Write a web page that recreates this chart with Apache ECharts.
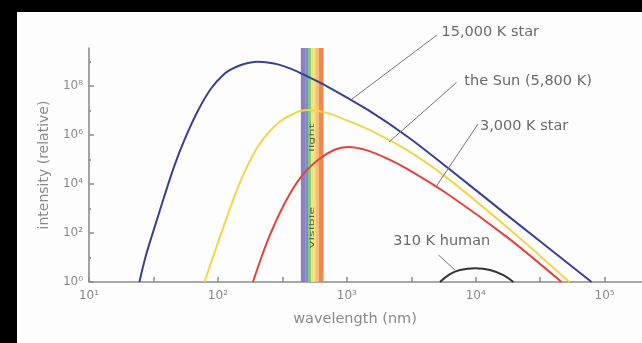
<!DOCTYPE html>
<html><head><meta charset="utf-8">
<script src="https://cdn.jsdelivr.net/npm/echarts@6/dist/echarts.min.js"></script>
<style>html,body{margin:0;padding:0;background:#000}#c{width:642px;height:343px}</style>
</head><body><div id="c"></div>
<script>
// wavelength in nm, intensity relative
const wavelengthsStar15000 = [24.6, 27.7, 32.2, 38.5, 46, 55, 69.8, 88.5, 112, 130, 151, 175, 204, 250, 292, 370, 470, 713, 1458, 2980, 6095, 17800, 79200];
const intensityStar15000   = [1, 12.6, 166, 3300, 5.6e4, 6.3e5, 9.5e6, 7.9e7, 3.1e8, 5.1e8, 7.2e8, 8.9e8, 9.8e8, 8.9e8, 7.6e8, 5.0e8, 2.8e8, 9.3e7, 1.05e7, 8.3e5, 4.5e4, 500, 1];
const wavelengthsSun = [78.7, 119, 151, 204, 292, 417, 499, 713, 1021, 1458, 2980, 6095, 17800, 53300];
const intensitySun   = [1, 540, 1.45e4, 3.3e5, 3.0e6, 8.9e6, 1.05e7, 7.8e6, 3.8e6, 1.74e6, 2.3e5, 1.66e4, 160, 1];
const wavelengthsStar3000 = [187, 244, 329, 443, 597, 803, 1021, 1458, 2085, 2980, 6095, 17800, 46300];
const intensityStar3000   = [1, 51, 1600, 2.0e4, 9.5e4, 2.5e5, 3.2e5, 2.3e5, 1.05e5, 3.95e4, 3800, 63, 1];
const wavelengthsHuman = [5280, 6320, 7560, 9880, 12900, 16400, 19600];
const intensityHuman   = [1, 2.1, 3.1, 3.6, 3.1, 1.9, 1];
// visible band stripe edges (nm)
const visibleBandEdges = [440, 475, 500, 530, 570, 605, 660];
// tick labels
const xTickExponents = [1, 2, 3, 4, 5];
const xTickLabels = ['10\u00B9', '10\u00B2', '10\u00B3', '10\u2074', '10\u2075'];
const yTickExponents = [0, 2, 4, 6, 8];
const yTickLabels = ['10\u2070', '10\u00B2', '10\u2074', '10\u2076', '10\u2078'];
const seriesNames = ['15,000 K star', 'the Sun (5,800 K)', '3,000 K star', '310 K human'];

const bandColors = ['#8f7fc1', '#6f93c9', '#8dc47e', '#f2e57a', '#f6bd78', '#ee8a4f'];
const toPts = (w, v) => w.map((x, i) => [Math.log10(x), Math.log10(v[i])]);

const bandData = [];
for (let i = 0; i < visibleBandEdges.length - 1; i++) {
  bandData.push([
    { xAxis: Math.log10(visibleBandEdges[i]), itemStyle: { color: bandColors[i] } },
    { xAxis: Math.log10(visibleBandEdges[i + 1]) }
  ]);
}

const axisGray = '#8c8c8c';
const chart = echarts.init(document.getElementById('c'));
const lineSeries = (name, w, v, color, smooth) => ({
  name, type: 'line', data: toPts(w, v), showSymbol: false, smooth: smooth,
  lineStyle: { color, width: 2 }, itemStyle: { color }, z: 3, silent: true
});
chart.setOption({
  animation: false,
  backgroundColor: '#fdfdfd',
  textStyle: { fontFamily: 'DejaVu Sans' },
  grid: { left: 89, right: 0, top: 48, bottom: 61 },
  xAxis: {
    type: 'value', min: 1, max: 5.29, interval: 0.5,
    name: 'wavelength (nm)', nameLocation: 'middle', nameGap: 30,
    nameTextStyle: { fontSize: 14.5, color: '#8a8a8a', padding: [0, 21, 0, 0] },
    axisLine: { lineStyle: { color: axisGray, width: 1.6 } },
    axisTick: { inside: true, length: 5, customValues: [1, 1.5, 2, 2.5, 3, 3.5, 4, 4.5, 5], lineStyle: { color: axisGray, width: 1.5 } },
    axisLabel: { customValues: xTickExponents, fontSize: 12, color: '#8a8a8a', margin: 8,
      formatter: v => xTickLabels[xTickExponents.indexOf(Math.round(v))] || '' },
    splitLine: { show: false }
  },
  yAxis: [{
    type: 'value', min: 0, max: 9.55, interval: 1,
    name: 'intensity (relative)', nameLocation: 'middle', nameGap: 38,
    nameTextStyle: { fontSize: 14, color: '#8a8a8a' },
    axisLine: { lineStyle: { color: axisGray, width: 1.6 } },
    axisTick: { inside: true, length: 5, customValues: yTickExponents, lineStyle: { color: axisGray, width: 1.5 } },
    axisLabel: { customValues: yTickExponents, fontSize: 12, color: '#8a8a8a', margin: 6,
      formatter: v => yTickLabels[yTickExponents.indexOf(Math.round(v))] || '' },
    splitLine: { show: false }
  }, {
    type: 'value', min: 0, max: 9.55, interval: 1, position: 'left',
    axisLine: { show: false }, axisLabel: { show: false }, splitLine: { show: false },
    axisTick: { inside: true, length: 2, customValues: [1, 3, 5, 7, 9], lineStyle: { color: axisGray, width: 1.5 } }
  }],
  series: [
    { type: 'line', data: [], silent: true, z: 1, markArea: { silent: true, data: bandData } },
    lineSeries(seriesNames[0], wavelengthsStar15000, intensityStar15000, '#3b3f92', 0.3),
    lineSeries(seriesNames[1], wavelengthsSun, intensitySun, '#f2d64a', 0.3),
    lineSeries(seriesNames[2], wavelengthsStar3000, intensityStar3000, '#e4433c', 0.3),
    lineSeries(seriesNames[3], wavelengthsHuman, intensityHuman, '#333333', 0.4)
  ],
  graphic: [
    { type: 'line', shape: { x1: 437, y1: 35, x2: 352, y2: 99 }, style: { stroke: '#777', lineWidth: 1 }, z: 50 },
    { type: 'line', shape: { x1: 456.5, y1: 82.5, x2: 389, y2: 142 }, style: { stroke: '#777', lineWidth: 1 }, z: 50 },
    { type: 'line', shape: { x1: 478, y1: 124, x2: 436.5, y2: 186 }, style: { stroke: '#777', lineWidth: 1 }, z: 50 },
    { type: 'line', shape: { x1: 438.5, y1: 255, x2: 455, y2: 270 }, style: { stroke: '#777', lineWidth: 1 }, z: 50 },
    { type: 'text', x: 441.5, y: 32.7, z: 60, style: { text: seriesNames[0], fontSize: 14.5, fontFamily: 'DejaVu Sans', fill: '#6a6a6a', align: 'left', verticalAlign: 'middle' } },
    { type: 'text', x: 464.3, y: 81.5, z: 60, style: { text: seriesNames[1], fontSize: 14.5, fontFamily: 'DejaVu Sans', fill: '#6a6a6a', align: 'left', verticalAlign: 'middle' } },
    { type: 'text', x: 480, y: 126.7, z: 60, style: { text: seriesNames[2], fontSize: 14.5, fontFamily: 'DejaVu Sans', fill: '#6a6a6a', align: 'left', verticalAlign: 'middle' } },
    { type: 'text', x: 393.3, y: 241.7, z: 60, style: { text: seriesNames[3], fontSize: 14.5, fontFamily: 'DejaVu Sans', fill: '#6a6a6a', align: 'left', verticalAlign: 'middle' } },
    { type: 'text', x: 312.5, y: 137.5, rotation: Math.PI / 2, scaleY: 0.5, z: 60, style: { text: 'light', fontSize: 13, fontFamily: 'DejaVu Sans', fill: '#55603f', align: 'center', verticalAlign: 'middle' } },
    { type: 'text', x: 312.5, y: 227.5, rotation: Math.PI / 2, scaleY: 0.5, z: 60, style: { text: 'visible', fontSize: 13, fontFamily: 'DejaVu Sans', fill: '#55603f', align: 'center', verticalAlign: 'middle' } },
    { type: 'rect', shape: { x: 0, y: 0, width: 17, height: 343 }, style: { fill: '#000' }, z: 200 },
    { type: 'rect', shape: { x: 0, y: 0, width: 642, height: 12 }, style: { fill: '#000' }, z: 200 }
  ]
});
</script>
</body></html>
